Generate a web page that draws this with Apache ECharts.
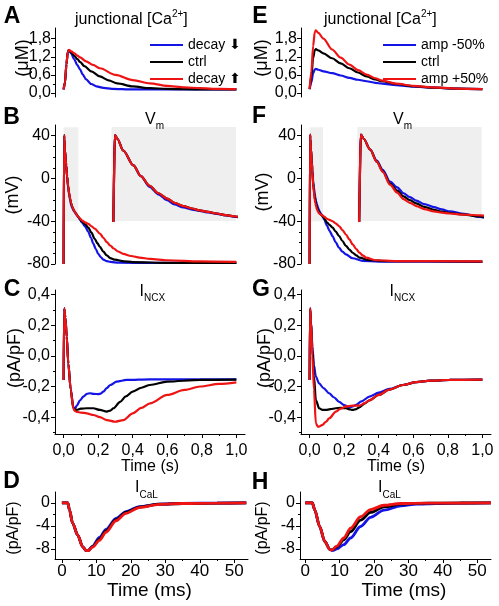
<!DOCTYPE html>
<html><head><meta charset="utf-8">
<script src="https://cdn.jsdelivr.net/npm/echarts@6.0.0/dist/echarts.min.js"></script>
<style>html,body{margin:0;padding:0;background:#fff;}#chart{width:499px;height:606px;}</style>
</head><body><div id="chart"></div><script>
// ---------- tick values ----------
const caTicks=[0,0.6,1.2,1.8], caMinor=[0.3,0.9,1.5];
const vTicks=[-80,-40,0,40], vMinor=[-70,-60,-50,-30,-20,-10,10,20,30];
const ncxTicks=[-0.4,-0.2,0,0.2,0.4], ncxMinor=[-0.5,-0.3,-0.1,0.1,0.3];
const calTicks=[-8,-4,0], calMinor=[-6,-2];
const tsTicks=[0,0.2,0.4,0.6,0.8,1.0], tsMinor=[0.1,0.3,0.5,0.7,0.9];
const tmsTicks=[0,10,20,30,40,50], tmsMinor=[5,15,25,35,45];
// ---------- legend names ----------
const namesDecay=['decay \u2B07','ctrl','decay \u2B06'];
const namesAmp=['amp -50%','ctrl','amp +50%'];
// ---------- inset (zoom) windows ----------
const insetTimeB=[0,0.085], insetTimeF=[0,0.078], insetV=[-40,48];
// ---------- A: junctional Ca, decay (s, uM) ----------
const jCaDecayBlue=[[0,0.12],[0.008,0.35],[0.016,0.95],[0.024,1.35],[0.03,1.42],[0.045,1.3],[0.06,1.12],[0.08,0.92],[0.095,0.78],[0.11,0.62],[0.13,0.45],[0.16,0.3],[0.19,0.22],[0.23,0.17],[0.28,0.14],[0.4,0.12],[1.0,0.12]];
const jCaDecayCtrl=[[0,0.12],[0.008,0.35],[0.016,0.95],[0.024,1.35],[0.03,1.42],[0.045,1.34],[0.06,1.24],[0.08,1.12],[0.095,1.03],[0.12,0.89],[0.16,0.72],[0.21,0.55],[0.26,0.42],[0.31,0.32],[0.4,0.22],[0.5,0.16],[0.6,0.14],[0.8,0.125],[1.0,0.12]];
const jCaDecayRed=[[0,0.12],[0.008,0.35],[0.016,0.95],[0.024,1.35],[0.03,1.43],[0.045,1.38],[0.06,1.32],[0.08,1.24],[0.095,1.18],[0.13,1.05],[0.17,0.93],[0.21,0.82],[0.3,0.6],[0.4,0.43],[0.5,0.32],[0.6,0.24],[0.7,0.19],[0.79,0.16],[0.9,0.14],[1.0,0.13]];
// ---------- E: junctional Ca, amplitude ----------
const jCaAmpBlue=[[0,0.13],[0.01,0.35],[0.02,0.65],[0.03,0.78],[0.036,0.8],[0.05,0.77],[0.08,0.72],[0.13,0.66],[0.18,0.58],[0.23,0.5],[0.28,0.44],[0.33,0.39],[0.38,0.34],[0.42,0.31],[0.5,0.26],[0.6,0.21],[0.71,0.18],[0.85,0.15],[1.0,0.13]];
const jCaAmpCtrl=[[0,0.13],[0.01,0.55],[0.02,1.15],[0.03,1.42],[0.036,1.45],[0.05,1.41],[0.08,1.31],[0.13,1.15],[0.18,0.98],[0.23,0.82],[0.28,0.68],[0.33,0.55],[0.38,0.45],[0.42,0.39],[0.5,0.3],[0.6,0.23],[0.71,0.18],[0.85,0.15],[1.0,0.13]];
const jCaAmpRed=[[0,0.13],[0.01,0.7],[0.02,1.55],[0.03,2.02],[0.036,2.07],[0.05,1.99],[0.08,1.8],[0.13,1.44],[0.18,1.17],[0.23,0.94],[0.28,0.76],[0.33,0.61],[0.38,0.49],[0.42,0.41],[0.5,0.31],[0.6,0.24],[0.71,0.19],[0.85,0.15],[1.0,0.13]];
// ---------- B: Vm, decay (s, mV) ----------
const vmDecayBlue=[[0,-80],[0.0006,-80],[0.0024,40.5],[0.004,37],[0.008,26],[0.015,12],[0.02,2],[0.026,-8],[0.032,-15],[0.038,-20.5],[0.043,-24.5],[0.049,-27.3],[0.055,-29.3],[0.06,-30.5],[0.066,-32],[0.072,-33.3],[0.078,-34.7],[0.085,-36.2],[0.095,-38.5],[0.105,-41],[0.125,-45],[0.143,-50],[0.158,-55.5],[0.172,-61],[0.186,-66],[0.2,-70.5],[0.215,-73.5],[0.23,-76],[0.25,-77.3],[0.27,-78],[0.32,-78.8],[0.5,-79],[1.0,-79]];
const vmDecayCtrl=[[0,-80],[0.0006,-80],[0.0024,40.5],[0.004,37],[0.008,26],[0.015,12],[0.02,2],[0.026,-7],[0.032,-14],[0.038,-19],[0.043,-23],[0.049,-26],[0.055,-28.3],[0.06,-30],[0.066,-31.5],[0.072,-33],[0.078,-34.5],[0.085,-36],[0.095,-38],[0.105,-40],[0.125,-43],[0.143,-46],[0.16,-50.5],[0.18,-56.5],[0.195,-60.5],[0.21,-64],[0.23,-68.5],[0.25,-72],[0.27,-74.5],[0.297,-76],[0.35,-77.5],[0.4,-78.2],[0.6,-79],[1.0,-79]];
const vmDecayRed=[[0,-80],[0.0006,-80],[0.0024,40.5],[0.004,37],[0.008,26],[0.015,12],[0.02,2],[0.026,-7],[0.032,-14],[0.038,-19],[0.043,-23],[0.049,-26],[0.055,-28.3],[0.06,-30],[0.066,-31.5],[0.072,-33],[0.078,-34.5],[0.085,-35.8],[0.095,-37.5],[0.105,-39.2],[0.125,-41],[0.143,-42.5],[0.16,-44.5],[0.18,-47],[0.21,-51.5],[0.23,-55.5],[0.25,-59.5],[0.27,-62.7],[0.29,-65.5],[0.315,-68.3],[0.345,-70.5],[0.39,-72.5],[0.44,-74],[0.5,-75.2],[0.6,-76.5],[0.79,-77.5],[1.0,-78]];
// ---------- F: Vm, amplitude ----------
const vmAmpBlue=[[0,-80],[0.0005,-80],[0.0023,41],[0.004,37],[0.008,27],[0.0122,16.5],[0.016,8],[0.0205,-3],[0.025,-8.5],[0.029,-14],[0.033,-17.7],[0.037,-21],[0.042,-24.2],[0.048,-27],[0.053,-29.2],[0.058,-31],[0.067,-33.3],[0.077,-36.2],[0.085,-38.5],[0.1,-44],[0.115,-49],[0.133,-54],[0.15,-59.5],[0.171,-65],[0.19,-68.5],[0.21,-71],[0.249,-74.6],[0.307,-77],[0.4,-77.8],[1.0,-78]];
const vmAmpCtrl=[[0,-80],[0.0005,-80],[0.0023,41],[0.004,37],[0.008,27],[0.0122,15.5],[0.016,6.5],[0.0205,-5],[0.025,-11.5],[0.029,-17],[0.033,-20.5],[0.037,-23.5],[0.042,-26.8],[0.048,-29.5],[0.053,-31.3],[0.058,-32.5],[0.067,-34],[0.077,-35.8],[0.085,-37.5],[0.1,-41],[0.115,-43.5],[0.133,-46],[0.15,-49.5],[0.171,-54],[0.19,-58.5],[0.21,-63],[0.23,-66.5],[0.249,-69.5],[0.27,-72],[0.288,-74],[0.346,-76.5],[0.45,-77.3],[1.0,-77.8]];
const vmAmpRed=[[0,-80],[0.0005,-80],[0.0023,41],[0.004,37],[0.008,27],[0.0122,15.5],[0.016,6],[0.0205,-6],[0.025,-13.5],[0.029,-19.5],[0.033,-23],[0.037,-26],[0.042,-28.8],[0.048,-31],[0.053,-32.2],[0.058,-33],[0.067,-34],[0.077,-34.8],[0.085,-35.8],[0.1,-37.7],[0.115,-38.8],[0.133,-40],[0.15,-42],[0.171,-44.7],[0.19,-48.3],[0.21,-52.4],[0.23,-57],[0.249,-61.7],[0.27,-66],[0.288,-69.4],[0.31,-72.2],[0.326,-74],[0.384,-76.5],[0.5,-77.3],[1.0,-77.6]];
// ---------- C: INCX, decay (s, pA/pF) ----------
const ncxDecayBlue=[[0,-0.157],[0.002,-0.16],[0.003,0.31],[0.01,0.25],[0.018,0.126],[0.027,-0.05],[0.041,-0.22],[0.056,-0.335],[0.066,-0.345],[0.076,-0.325],[0.095,-0.29],[0.114,-0.266],[0.135,-0.248],[0.153,-0.244],[0.175,-0.248],[0.2,-0.25],[0.215,-0.246],[0.23,-0.233],[0.25,-0.21],[0.27,-0.19],[0.307,-0.168],[0.365,-0.157],[0.5,-0.153],[1.0,-0.153]];
const ncxDecayCtrl=[[0,-0.157],[0.002,-0.16],[0.003,0.31],[0.01,0.25],[0.018,0.126],[0.027,-0.05],[0.041,-0.22],[0.056,-0.34],[0.066,-0.352],[0.076,-0.353],[0.1,-0.345],[0.134,-0.342],[0.172,-0.342],[0.21,-0.353],[0.25,-0.364],[0.27,-0.357],[0.288,-0.342],[0.327,-0.3],[0.36,-0.265],[0.4,-0.233],[0.45,-0.208],[0.5,-0.19],[0.6,-0.168],[0.79,-0.157],[1.0,-0.155]];
const ncxDecayRed=[[0,-0.157],[0.002,-0.16],[0.003,0.31],[0.01,0.25],[0.018,0.126],[0.027,-0.05],[0.041,-0.22],[0.056,-0.345],[0.066,-0.36],[0.076,-0.366],[0.1,-0.37],[0.134,-0.375],[0.172,-0.386],[0.21,-0.4],[0.25,-0.419],[0.298,-0.43],[0.346,-0.419],[0.4,-0.375],[0.45,-0.34],[0.5,-0.31],[0.6,-0.255],[0.7,-0.222],[0.79,-0.2],[0.9,-0.183],[1.0,-0.173]];
// ---------- G: INCX, amplitude ----------
const ncxAmpBlue=[[0,-0.157],[0.001,-0.16],[0.0025,0.31],[0.008,0.22],[0.016,0.06],[0.025,-0.06],[0.036,-0.135],[0.055,-0.18],[0.08,-0.21],[0.113,-0.244],[0.14,-0.27],[0.171,-0.3],[0.2,-0.322],[0.23,-0.336],[0.25,-0.33],[0.269,-0.32],[0.3,-0.297],[0.346,-0.266],[0.4,-0.24],[0.462,-0.216],[0.54,-0.19],[0.617,-0.172],[0.7,-0.162],[0.81,-0.157],[1.0,-0.155]];
const ncxAmpCtrl=[[0,-0.157],[0.001,-0.16],[0.0025,0.31],[0.008,0.22],[0.016,0.04],[0.025,-0.13],[0.036,-0.288],[0.055,-0.342],[0.075,-0.353],[0.094,-0.353],[0.12,-0.348],[0.152,-0.342],[0.18,-0.34],[0.21,-0.342],[0.235,-0.35],[0.249,-0.353],[0.27,-0.347],[0.288,-0.336],[0.32,-0.31],[0.346,-0.29],[0.4,-0.255],[0.462,-0.22],[0.54,-0.19],[0.617,-0.172],[0.7,-0.162],[0.81,-0.157],[1.0,-0.155]];
const ncxAmpRed=[[0,-0.157],[0.001,-0.16],[0.0025,0.31],[0.008,0.22],[0.016,0.0],[0.025,-0.22],[0.036,-0.44],[0.048,-0.462],[0.055,-0.462],[0.075,-0.45],[0.094,-0.43],[0.113,-0.408],[0.152,-0.364],[0.18,-0.345],[0.21,-0.33],[0.249,-0.325],[0.288,-0.325],[0.32,-0.308],[0.346,-0.29],[0.4,-0.255],[0.462,-0.22],[0.54,-0.19],[0.617,-0.172],[0.7,-0.162],[0.81,-0.157],[1.0,-0.155]];
// ---------- D: ICaL, decay (ms, pA/pF) ----------
const calDecayBlue=[[0,0],[1.7,0],[2.2,-1.2],[3.1,-3.5],[4.6,-5.6],[6.0,-7.6],[7.0,-8.25],[7.6,-8.3],[8.9,-7.5],[10.9,-6.0],[12.8,-4.6],[15.7,-2.7],[18.6,-1.5],[22.5,-0.65],[28.3,-0.2],[35,-0.08],[45,-0.02],[53.5,0]];
const calDecayCtrl=[[0,0],[1.7,0],[2.2,-1.2],[3.1,-3.5],[4.6,-5.6],[6.0,-7.6],[7.0,-8.25],[7.6,-8.3],[8.9,-7.6],[10.9,-6.3],[12.8,-4.85],[15.7,-2.9],[18.6,-1.65],[22.5,-0.72],[28.3,-0.22],[35,-0.1],[45,-0.03],[53.5,0]];
const calDecayRed=[[0,0],[1.7,0],[2.2,-1.2],[3.1,-3.5],[4.6,-5.6],[6.0,-7.6],[7.0,-8.25],[7.6,-8.3],[8.9,-7.7],[10.9,-6.5],[12.8,-5.1],[15.7,-3.1],[18.6,-1.8],[22.5,-0.8],[28.3,-0.25],[35,-0.1],[45,-0.03],[53.5,0]];
// ---------- H: ICaL, amplitude ----------
const calAmpBlue=[[0,0],[2.1,0],[2.8,-1.25],[4.2,-4.1],[5.7,-6.7],[7.2,-8.1],[8.0,-8.25],[9.2,-8.0],[11.2,-7.25],[13.2,-6.1],[16.1,-4.1],[19.0,-2.5],[22.9,-1.25],[27.8,-0.5],[32.5,-0.2],[38,-0.1],[45,-0.03],[54,0]];
const calAmpCtrl=[[0,0],[2.1,0],[2.8,-1.25],[4.2,-4.1],[5.7,-6.7],[7.2,-8.1],[7.7,-8.2],[9.2,-7.65],[11.2,-6.4],[13.2,-5.0],[16.1,-3.0],[19.0,-1.65],[22.9,-0.7],[27.8,-0.2],[32,-0.08],[40,-0.02],[54,0]];
const calAmpRed=[[0,0],[2.1,0],[2.8,-1.25],[4.2,-4.1],[5.7,-6.7],[7.2,-8.1],[7.7,-8.2],[9.2,-7.5],[11.2,-6.1],[13.2,-4.4],[16.1,-2.4],[19.0,-1.15],[22.9,-0.4],[27.8,-0.1],[35,-0.03],[54,0]];

// ---------- build chart ----------
const FONT="'Liberation Sans', Arial, Helvetica, sans-serif";
const COLORS=['#1414e6','#000000','#ee1414'];
const grids=[], xAxes=[], yAxes=[], series=[], texts=[];
function fmt(dec){ return v => (dec>0 ? Number(v).toFixed(dec) : String(Math.round(v))).replace('.', ','); }

function addAxes(g, dim, p){
  const arr = dim==='x' ? xAxes : yAxes;
  const maj = p[dim+'Maj'], min = p[dim+'Min'], rng = p[dim];
  const idx = arr.length;
  const pos = dim==='x' ? 'bottom' : 'left';
  arr.push({gridIndex:g, type:'value', min:rng[0], max:rng[1], position:pos, show: !!maj,
    axisLine:{show:true, onZero:false, lineStyle:{color:'#000', width:1}},
    splitLine:{show:false},
    axisTick: maj ? {show:true, customValues:maj, length:4, lineStyle:{color:'#000', width:1}} : {show:false},
    axisLabel: maj ? {show:true, customValues:maj, formatter:fmt(p[dim+'Dec']), margin:p[dim+'Margin'] || 5,
      color:'#000', fontFamily:FONT, fontSize:p[dim+'Font'] || 16} : {show:false}});
  if (maj && min) {
    arr.push({gridIndex:g, type:'value', min:rng[0], max:rng[1], position:pos,
      axisLine:{show:false, onZero:false}, splitLine:{show:false}, axisLabel:{show:false},
      axisTick:{show:true, customValues:min, length:2, lineStyle:{color:'#000', width:1}}});
  }
  return idx;
}

function addPanel(p){
  const g = grids.length;
  grids.push(Object.assign({}, p.grid, p.bg ? {show:true, backgroundColor:p.bg, borderWidth:0} : {show:false}));
  const xi = addAxes(g, 'x', p), yi = addAxes(g, 'y', p);
  p.data.forEach((d, i) => {
    const s = {type:'line', name:p.names[i], xAxisIndex:xi, yAxisIndex:yi, data:d, symbol:'none',
      smooth:0.3, smoothMonotone:'x', clip:true, silent:true, animation:false, z:3+i,
      color:COLORS[i], lineStyle:{color:COLORS[i], width:p.lw || 2.2}};
    if (i===0 && p.box) {
      s.markArea = {silent:true, itemStyle:{color:'#efefef'}, data:[[{xAxis:p.box[0][0], yAxis:p.box[1][0]},{xAxis:p.box[0][1], yAxis:p.box[1][1]}]]};
    }
    series.push(s);
  });
}

const L=55, R=301, W=190;
const sx=[-0.05,1.05];
// A, E
addPanel({grid:{left:L, top:28, width:W, height:69}, x:sx, y:[-0.13,2.15], yMaj:caTicks, yMin:caMinor, yDec:1, yMargin:4, data:[jCaDecayBlue,jCaDecayCtrl,jCaDecayRed], names:namesDecay});
addPanel({grid:{left:R, top:28, width:W, height:69}, x:sx, y:[-0.13,2.15], yMaj:caTicks, yMin:caMinor, yDec:1, yMargin:4, data:[jCaAmpBlue,jCaAmpCtrl,jCaAmpRed], names:namesAmp});
// B, F
addPanel({grid:{left:L, top:125, width:W, height:139}, x:sx, y:[-80,50], yMaj:vTicks, yMin:vMinor, yDec:0, yMargin:5, data:[vmDecayBlue,vmDecayCtrl,vmDecayRed], names:namesDecay, box:[insetTimeB, insetV]});
addPanel({grid:{left:R, top:125, width:W, height:139}, x:sx, y:[-80,50], yMaj:vTicks, yMin:vMinor, yDec:0, yMargin:5, data:[vmAmpBlue,vmAmpCtrl,vmAmpRed], names:namesAmp, box:[insetTimeF, insetV]});
// insets
addPanel({grid:{left:111.5, top:127, width:124.5, height:94}, bg:'#efefef', x:insetTimeB, y:insetV, data:[vmDecayBlue,vmDecayCtrl,vmDecayRed], names:namesDecay});
addPanel({grid:{left:357.3, top:127, width:124.4, height:94}, bg:'#efefef', x:insetTimeF, y:insetV, data:[vmAmpBlue,vmAmpCtrl,vmAmpRed], names:namesAmp});
// C, G
addPanel({grid:{left:L, top:290, width:W, height:144}, x:sx, y:[-0.51,0.43], xMaj:tsTicks, xMin:tsMinor, xDec:1, xMargin:9, yMaj:ncxTicks, yMin:ncxMinor, yDec:1, yMargin:5, data:[ncxDecayBlue,ncxDecayCtrl,ncxDecayRed], names:namesDecay});
addPanel({grid:{left:R, top:290, width:W, height:144}, x:sx, y:[-0.51,0.43], xMaj:tsTicks, xMin:tsMinor, xDec:1, xMargin:9, yMaj:ncxTicks, yMin:ncxMinor, yDec:1, yMargin:5, data:[ncxAmpBlue,ncxAmpCtrl,ncxAmpRed], names:namesAmp});
// D, H
addPanel({grid:{left:L, top:492, width:193, height:67}, x:[-2,54], y:[-9.75,1.9], xMaj:tmsTicks, xMin:tmsMinor, xDec:0, xMargin:4, xFont:17, yMaj:calTicks, yMin:calMinor, yDec:0, yMargin:5, lw:2.8, data:[calDecayBlue,calDecayCtrl,calDecayRed], names:namesDecay});
addPanel({grid:{left:300, top:492, width:191, height:67}, x:[-1.5,54], y:[-9.75,1.9], xMaj:tmsTicks, xMin:tmsMinor, xDec:0, xMargin:4, xFont:17, yMaj:calTicks, yMin:calMinor, yDec:0, yMargin:5, lw:2.8, data:[calAmpBlue,calAmpCtrl,calAmpRed], names:namesAmp});

// ---------- texts ----------
const mctx=document.createElement('canvas').getContext('2d');
function fnt(size,bold){ return (bold?'bold ':'')+size+'px '+FONT; }
function tw(t,f){ mctx.font=f; return mctx.measureText(t).width; }
function txt(t,x,y,size,opts){
  opts=opts||{};
  texts.push({type:'text', x:x, y:y, rotation:opts.rot||0, silent:true, z:100,
    style:{text:t, font:fnt(size,opts.bold), fill:'#000', textAlign:opts.align||'left', textVerticalAlign:'middle', align:opts.align||'left', verticalAlign:'middle'}});
}
function runs(parts,x){ // parts: [text,size,yMiddle]
  let cx=x;
  parts.forEach(p=>{ txt(p[0],cx,p[2],p[1]); cx+=tw(p[0],fnt(p[1])); });
}
// panel letters
[['A',12,17],['E',260,17],['B',11.5,118],['F',259,117],['C',12,290],['G',261,290],['D',11.5,482],['H',260,483]].forEach(l=>txt(l[0],l[1],l[2],23,{bold:true,align:'center'}));
// titles
runs([['junctional [Ca',16,20],['2+',10,14],[']',16,20]],75);
runs([['junctional [Ca',16,20],['2+',10,14],[']',16,20]],324);
runs([['V',16,120],['m',10,126]],145);
runs([['V',16,120],['m',10,126]],393);
runs([['I',16,291.5],['NCX',10,298]],139.5);
runs([['I',16,291.5],['NCX',10,298]],389.5);
runs([['I',16,488],['CaL',10,495]],135);
runs([['I',16,488],['CaL',10,495]],378);
// x axis names
txt('Time (s)',150,467,16,{align:'center'});
txt('Time (s)',396,467,16,{align:'center'});
txt('Time (ms)',149.5,591,19,{align:'center'});
txt('Time (ms)',404,591,19,{align:'center'});
// y axis names
const R90=Math.PI/2;
txt('(\u03BCM)',23,58,18,{align:'center',rot:R90});
txt('(\u03BCM)',262.5,58,18,{align:'center',rot:R90});
txt('(mV)',13.5,195,18,{align:'center',rot:R90});
txt('(mV)',263.5,192,18,{align:'center',rot:R90});
txt('(pA/pF)',15,358,18,{align:'center',rot:R90});
txt('(pA/pF)',265,358,18,{align:'center',rot:R90});
txt('(pA/pF)',14,528,16,{align:'center',rot:R90});
txt('(pA/pF)',263,528,16,{align:'center',rot:R90});

const legendBase={orient:'vertical', icon:'rect', itemWidth:33, itemHeight:2, itemGap:3, selectedMode:false,
  textStyle:{fontFamily:FONT+", 'DejaVu Sans'", fontSize:14, color:'#000'}};
const option={
  animation:false, backgroundColor:'#fff',
  grid:grids, xAxis:xAxes, yAxis:yAxes, series:series,
  legend:[Object.assign({left:145, top:33, data:namesDecay}, legendBase), Object.assign({left:378, top:33, data:namesAmp}, legendBase)],
  graphic:{elements:texts}
};
const chart=echarts.init(document.getElementById('chart'), null, {renderer:'canvas'});
chart.setOption(option);
</script></body></html>
